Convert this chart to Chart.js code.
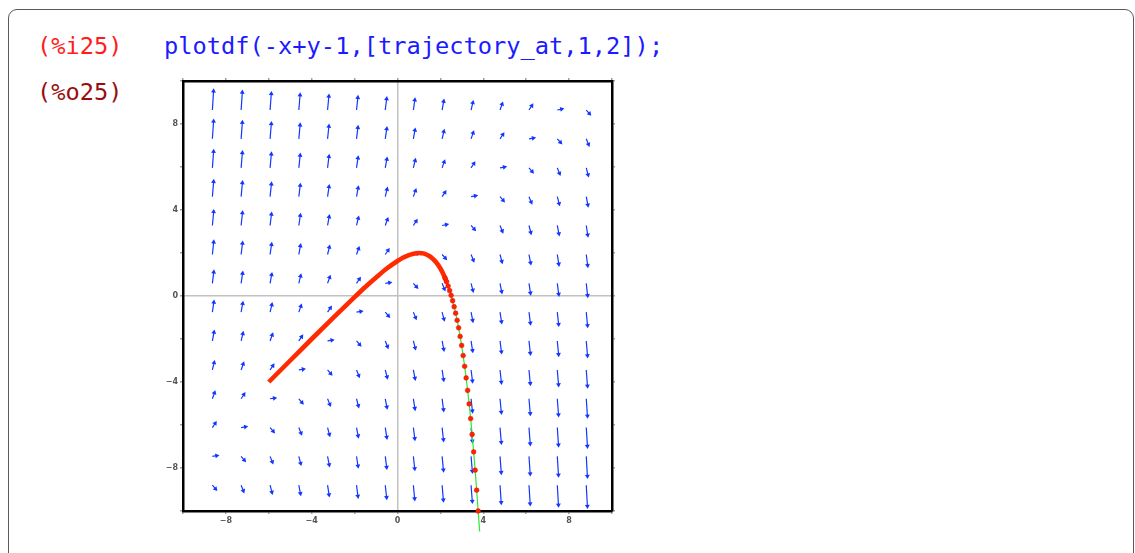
<!DOCTYPE html>
<html lang=en>

<head>
    <meta charset=UTF-8>
    <title>plotdf</title>
    <style>
        * {
            margin: 0;
            padding: 0;
        }

        body {
            background: #fff;
            width: 1135px;
            height: 553px;
            overflow: hidden;
            position: relative;
            font-family: "DejaVu Sans Mono", monospace;
        }

        .cell {
            position: absolute;
            left: 8px;
            top: 9px;
            width: 1124px;
            height: 600px;
            border: 1px solid #5a5a5a;
            border-radius: 9px;
        }

        .txt {
            position: absolute;
            font-size: 23.7px;
            line-height: 24px;
            white-space: pre;
        }

        #inLbl {
            left: 37px;
            top: 34px;
            color: #ff1c1c;
        }

        #outLbl {
            left: 37px;
            top: 80px;
            color: #9b0d0d;
        }

        #code {
            left: 164px;
            top: 34px;
            color: #1b1bff;
        }

        #plot {
            position: absolute;
            left: 143px;
            top: 61px;
        }
    </style>
</head>

<body>
    <div class=cell></div>
    <div class=txt id=inLbl>(%i25)</div>
    <div class=txt id=code>plotdf(-x+y-1,[trajectory_at,1,2]);</div>
    <div class=txt id=outLbl>(%o25)</div>
    <canvas id=plot width=489 height=480></canvas>

    <script src="https://cdn.jsdelivr.net/npm/chart.js"></script>
    <script>
        // dy/dx from the input cell: -x+y-1
        const slope = (x, y) => -x + y - 1;

        // where the field arrows start
        const fieldX = [-8.63, -7.29, -5.94, -4.6, -3.26, -1.91, -0.57, 0.74, 2.08, 3.43, 4.78, 6.13, 7.45, 8.8];
        const fieldY = [8.65, 7.31, 5.96, 4.62, 3.28, 1.93, 0.59, -0.75, -2.09, -3.44, -4.78, -6.12, -7.46, -8.8];

        // trajectory through (1,2): the dense part looks like a thick red line
        const trajX = [-6, -5, -4, -3, -2, -1.5, -1, -0.5, 0, 0.25, 0.5, 0.75, 1, 1.25, 1.5, 1.65, 1.8, 2, 2.15, 2.3];
        const trajY = [-4, -3.0, -2.0, -1.02, -0.05, 0.42, 0.86, 1.28, 1.63, 1.78, 1.89, 1.97, 2.0, 1.97, 1.85, 1.73, 1.57, 1.28, 0.99, 0.63];

        // separate integration points further down
        const dotX = [2.22, 2.29, 2.36, 2.43, 2.5, 2.57, 2.64, 2.71, 2.78, 2.85, 2.92, 2.99, 3.06, 3.13, 3.2, 3.27, 3.34, 3.41, 3.48, 3.55, 3.62, 3.69, 3.76];
        const dotY = [0.83, 0.66, 0.46, 0.25, 0.03, -0.22, -0.5, -0.8, -1.13, -1.48, -1.88, -2.3, -2.77, -3.27, -3.81, -4.39, -5.02, -5.7, -6.44, -7.25, -8.1, -9.03, -10];
        const endX = 3.83, endY = -10.95; // green line runs past the frame

        const tickLabels = [-8, -4, 0, 4, 8];

        const PX = 21.5;      // pixels per unit
        const HEAD_R = 2.8;
        const BLUE = '#1236ff';

        const shafts = [], heads = [], headRot = [];
        fieldX.forEach(x => fieldY.forEach(y => {
            const s = slope(x, y);
            const m = Math.hypot(1, s);
            const len = (6.25 + 0.95 * m) / PX;
            const ux = 1 / m, uy = s / m;
            const back = len - HEAD_R / PX;
            shafts.push({ x, y }, { x: x + ux * back, y: y + uy * back }, { x: NaN, y: NaN });
            heads.push({ x: x + ux * back, y: y + uy * back });
            headRot.push(Math.atan2(1, s) * 180 / Math.PI);
        }));

        const traj = trajX.map((x, i) => ({ x, y: trajY[i] }));
        const dots = dotX.map((x, i) => ({ x, y: dotY[i] }));
        const green = traj.slice(-3).concat(dots, [{ x: endX, y: endY }]);

        const label = v => tickLabels.includes(v) ? String(v).replace('-', '\u2212') : '';
        const tickFont = { family: 'DejaVu Sans', size: 8, weight: 'bold' };

        const axis = (pos, size, withLabels) => ({
            type: 'linear',
            position: pos,
            min: -10,
            max: 10,
            afterFit: s => {
                if (pos === 'top' || pos === 'bottom') s.height = size; else s.width = size;
            },
            ticks: {
                stepSize: 2,
                autoSkip: false,
                maxRotation: 0,
                padding: withLabels ? 2 : 0,
                color: '#555',
                font: tickFont,
                callback: withLabels ? label : () => ''
            },
            grid: {
                drawOnChartArea: withLabels,
                color: c => c.tick && c.tick.value === 0 ? '#c2c2c2' : 'rgba(0,0,0,0)',
                lineWidth: 1.5,
                tickColor: '#a0a0a0',
                tickLength: 3
            },
            border: { color: '#000', width: 2.5 }
        });

        new Chart(document.getElementById('plot'), {
            type: 'scatter',
            data: {
                datasets: [{
                    data: dots,
                    pointRadius: 2.4,
                    pointBackgroundColor: '#ff2200',
                    pointBorderColor: '#e01800',
                    pointBorderWidth: 0.5,
                    clip: false
                }, {
                    data: traj,
                    showLine: true,
                    borderColor: '#ff2a00',
                    borderWidth: 4.6,
                    pointRadius: 0,
                    cubicInterpolationMode: 'monotone'
                }, {
                    data: green,
                    showLine: true,
                    borderColor: '#2fe82f',
                    borderWidth: 1.2,
                    pointRadius: 0,
                    cubicInterpolationMode: 'monotone',
                    clip: { left: 0, top: 0, right: 0, bottom: 25 }
                }, {
                    data: heads,
                    pointStyle: 'triangle',
                    pointRadius: HEAD_R,
                    pointRotation: headRot,
                    pointBackgroundColor: BLUE,
                    pointBorderWidth: 0
                }, {
                    data: shafts,
                    showLine: true,
                    spanGaps: false,
                    borderColor: BLUE,
                    borderWidth: 1.2,
                    pointRadius: 0
                }]
            },
            options: {
                responsive: false,
                animation: false,
                events: [],
                layout: { padding: 0 },
                plugins: { legend: { display: false }, tooltip: { enabled: false } },
                scales: {
                    x: axis('bottom', 30, true),
                    x2: axis('top', 20, false),
                    y: axis('left', 40, true),
                    y2: axis('right', 20, false)
                }
            }
        });
    </script>
</body>

</html>
